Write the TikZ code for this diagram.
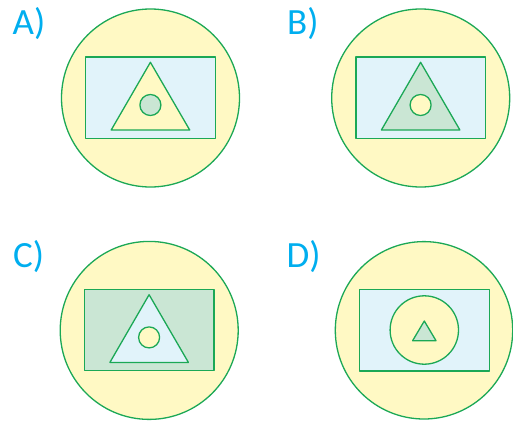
\documentclass[tikz,border=0pt]{standalone}
\usepackage{fontspec}
\setmainfont{Carlito}
\definecolor{edge}{HTML}{1BA856}
\definecolor{pyel}{HTML}{FFF9C4}
\definecolor{pblue}{HTML}{E1F3FA}
\definecolor{pgreen}{HTML}{CAE6D4}
\definecolor{lblue}{HTML}{00AEEF}

\begin{document}
\begin{tikzpicture}[x=1pt,y=-1pt,line width=1.3pt,
    shp/.style={draw=edge,line join=round},
    lbl/.style={text=lblue,font=\fontsize{37}{40}\selectfont,anchor=base west,inner sep=0pt}]
  \useasboundingbox(0,0)rectangle(513,420);
  % panels A, B, C: same layout, other fills
  \foreach\dx/\dy/\fr/\ft/\fc in{0/0/pblue/pyel/pgreen,270.2/0/pblue/pgreen/pyel,-1.3/232.4/pgreen/pblue/pyel}
  {
    \begin{scope}[shift={(\dx,\dy)}]
      \filldraw[shp,fill=pyel](150.5,98)circle(89);
      \filldraw[shp,fill=\fr](85.7,57)rectangle(215.3,138.3);
      \filldraw[shp,fill=\ft](150.4,62.3)--(189.7,130)--(111.2,130)--cycle;
      \filldraw[shp,fill=\fc](150.4,105)circle(10.5);
    \end{scope}
  }
  % panel D
  \filldraw[shp,fill=pyel](424,330.3)circle(88.7);
  \filldraw[shp,fill=pblue](359.7,289.3)rectangle(489.3,371);
  \filldraw[shp,fill=pyel](424.3,330)circle(34.2);
  \filldraw[shp,fill=pgreen](424.3,321)--(436,340.7)--(412.6,340.7)--cycle;
  \node[lbl](labA)at(12,35){A)};
  \node[lbl](labB)at(286.5,35){B)};
  \node[lbl](labC)at(12.5,267){C)};
  \node[lbl](labD)at(286,267){D)};
\end{tikzpicture}
\end{document}
